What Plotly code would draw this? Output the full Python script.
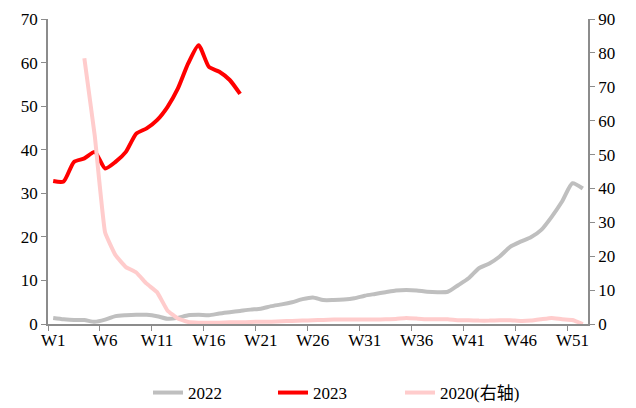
import plotly.graph_objects as go

weeks = list(range(1, 53))
tick_weeks = [1, 6, 11, 16, 21, 26, 31, 36, 41, 46, 51]
tick_labels = ["W%d" % w for w in tick_weeks]

s2022 = [1.4, 1.1, 0.9, 0.9, 0.5, 1.0, 1.8, 2.0, 2.1, 2.1,
         1.8, 1.2, 1.4, 2.0, 2.1, 2.0, 2.4, 2.7, 3.0, 3.3,
         3.5, 4.1, 4.5, 5.0, 5.7, 6.1, 5.5, 5.5, 5.6, 5.9,
         6.5, 6.9, 7.3, 7.7, 7.8, 7.7, 7.4, 7.3, 7.4, 8.9,
         10.5, 12.8, 13.9, 15.5, 17.7, 18.9, 19.9, 21.6, 24.6, 28.1,
         32.3, 31.1]

s2023 = [32.8, 32.7, 37.2, 38.0, 39.5, 35.7, 37.2, 39.5, 43.7, 44.9,
         46.8, 49.8, 54.0, 59.8, 64.0, 59.0, 57.9, 56.0, 52.8]

s2020_weeks = list(range(4, 53))
s2020 = [78.4, 55.6, 27.0, 20.3, 16.8, 15.2, 11.9, 9.4, 4.0, 1.6,
         0.6, 0.4, 0.4, 0.4, 0.5, 0.5, 0.6, 0.7, 0.7, 0.8,
         0.9, 1.0, 1.1, 1.2, 1.3, 1.3, 1.3, 1.3, 1.3, 1.4,
         1.5, 1.8, 1.6, 1.4, 1.4, 1.4, 1.1, 1.1, 1.0, 1.0,
         1.1, 1.1, 0.9, 1.0, 1.4, 1.8, 1.4, 1.2, 0.0]

FONT = "'Liberation Serif', 'Noto Sans CJK SC', serif"
AXIS_COLOR = "#8c8c8c"
FS = 17
W, H = 636, 408

fig = go.Figure()
fig.add_trace(go.Scatter(x=weeks, y=s2022, name="2022", mode="lines", legend="legend",
                         line=dict(color="#BFBFBF", width=4, shape="spline", smoothing=0.6)))
fig.add_trace(go.Scatter(x=weeks[:len(s2023)], y=s2023, name="2023", mode="lines", legend="legend2",
                         line=dict(color="#FF0000", width=4, shape="spline", smoothing=0.6)))
fig.add_trace(go.Scatter(x=s2020_weeks, y=s2020, name="2020(右轴)", mode="lines", yaxis="y2",
                         legend="legend3",
                         line=dict(color="#FFCCCC", width=4, shape="spline", smoothing=0.3)))


def leg(text_x):
    return dict(orientation="h", x=(text_x - 40) / W, xanchor="left", xref="container",
                y=(H - 393) / H, yanchor="middle", yref="container",
                font=dict(family=FONT, size=FS, color="#000000"),
                bgcolor="rgba(0,0,0,0)", borderwidth=0)


fig.update_layout(
    width=W, height=H,
    margin=dict(l=48, r=48, t=19, b=84, autoexpand=False),
    paper_bgcolor="white", plot_bgcolor="white",
    font=dict(family=FONT, size=FS, color="#000000"),
    showlegend=True,
    legend=leg(188), legend2=leg(313), legend3=leg(440),
    xaxis=dict(range=[0.5, 52.5], tickmode="array", tickvals=tick_weeks, ticktext=tick_labels,
               ticks="", showgrid=False, zeroline=False, automargin=False,
               showline=True, linecolor=AXIS_COLOR, linewidth=1.5,
               minor=dict(tick0=0.5, dtick=5, ticks="outside", ticklen=5, tickcolor=AXIS_COLOR, showgrid=False),
               tickfont=dict(size=FS)),
    yaxis=dict(range=[0, 70], dtick=10, ticks="outside", ticklen=5, tickcolor=AXIS_COLOR,
               showgrid=False, zeroline=False, showline=True, linecolor=AXIS_COLOR, linewidth=1.5,
               automargin=False, tickfont=dict(size=FS)),
    yaxis2=dict(range=[0, 90], dtick=10, overlaying="y", side="right", ticks="outside", ticklen=5,
                tickcolor=AXIS_COLOR, showgrid=False, zeroline=False, showline=True,
                linecolor=AXIS_COLOR, linewidth=1.5, automargin=False, tickfont=dict(size=FS)),
)

fig.write_html("out.html", config={"displayModeBar": False},
               post_script="document.body.style.margin='0';document.body.style.overflow='hidden';")
